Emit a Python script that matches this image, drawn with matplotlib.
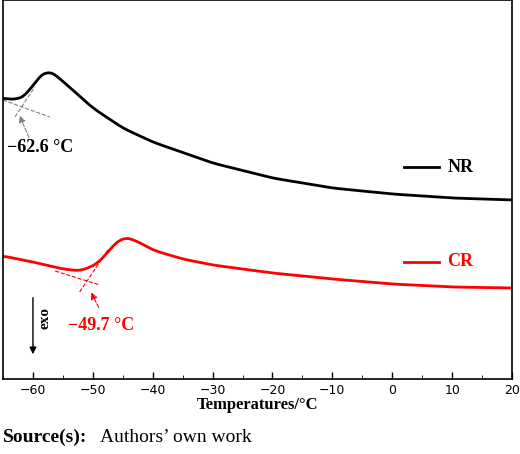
import matplotlib
matplotlib.use("Agg")
import matplotlib.pyplot as plt
import numpy as np

nr_t = [-65, -63, -61, -59.5, -57.5, -56, -53, -50, -45, -40, -30, -20, -10, 0, 10, 20]
nr_y = [98, 100, 95, 80, 70, 76, 92, 108, 128, 142, 163, 178, 188, 194, 198, 200]
cr_t = [-65, -60, -55, -52, -49, -47, -45, -43, -40, -35, -30, -20, -10, 0, 10, 20]
cr_y = [256, 262, 269, 271, 263, 248, 237, 240, 250, 259, 265, 273, 279, 284, 287, 288]

def smooth(t, y):
    g = np.linspace(-65, 20, 1700)
    v = np.interp(g, t, y)
    k = 25
    vp = np.pad(v, k, mode="edge")
    v = np.convolve(vp, np.ones(2 * k + 1) / (2 * k + 1), mode="same")[k:-k]
    return g, v

fig = plt.figure(figsize=(5.2, 4.54), dpi=100)
ax = fig.add_axes([3 / 520, 75 / 454, 509 / 520, 379 / 454])
ax.set_xlim(-65, 20)
ax.set_ylim(379, 0)
ax.set_yticks([])
ax.set_xticks(range(-60, 21, 10))
ax.set_xticks(range(-65, 21, 5), minor=True)
ax.tick_params(axis="x", direction="in", labelsize=9, length=5, width=1)
ax.tick_params(axis="x", which="minor", direction="in", length=3)
for s in ax.spines.values():
    s.set_linewidth(1.2)
ax.set_xlabel("Temperatures/°C", fontfamily="Liberation Serif", fontweight="bold", fontsize=12, labelpad=0)

g, v = smooth(nr_t, nr_y)
ax.plot(g, v, color="black", lw=2)
g, v = smooth(cr_t, cr_y)
ax.plot(g, v, color="red", lw=2)

# tangent constructions
ax.plot([-65, -57.2], [100, 117], color="gray", lw=0.8, ls="--")
ax.plot([-63, -59.7], [117, 87], color="gray", lw=0.8, ls="--")
ax.annotate("", xy=(-62.4, 113), xytext=(-60.5, 140),
            arrowprops=dict(arrowstyle="-|>", color="gray", lw=0.8, ls="--"))
ax.text(-64.3, 148, "−62.6 °C", fontfamily="Liberation Serif", fontweight="bold", fontsize=13, va="center")

ax.plot([-56.3, -48.8], [271, 285], color="red", lw=0.8, ls="--")
ax.plot([-52.2, -47.5], [292, 250], color="red", lw=0.8, ls="--")
ax.annotate("", xy=(-50.5, 290), xytext=(-48.8, 310),
            arrowprops=dict(arrowstyle="-|>", color="red", lw=0.8, ls="--"))
ax.text(-54.2, 326, "−49.7 °C", fontfamily="Liberation Serif", fontweight="bold", fontsize=13, va="center", color="red")

# legend-like labels
ax.plot([2, 7.8], [167, 167], color="black", lw=2)
ax.text(9.2, 167, "NR", fontfamily="Liberation Serif", fontweight="bold", fontsize=13, va="center")
ax.plot([2, 7.8], [262, 262], color="red", lw=2)
ax.text(9.2, 262, "CR", fontfamily="Liberation Serif", fontweight="bold", fontsize=13, va="center", color="red")

# exo arrow
ax.annotate("", xy=(-60, 357), xytext=(-60, 295),
            arrowprops=dict(arrowstyle="-|>", color="black", lw=1))
ax.text(-58, 318, "exo", rotation=90, fontfamily="Liberation Serif", fontweight="bold", fontsize=11, va="center", ha="center")

fig.text(3 / 520, 1 - 437 / 454, "Source(s):", fontfamily="Liberation Serif", fontweight="bold", fontsize=14, va="center")
fig.text(100 / 520, 1 - 437 / 454, "Authors’ own work", fontfamily="Liberation Serif", fontsize=14, va="center")

fig.savefig("out.png", dpi=100)
